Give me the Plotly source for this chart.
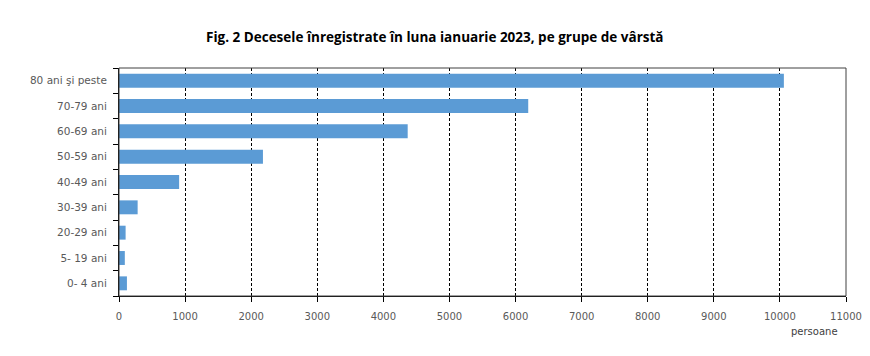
import plotly.graph_objects as go

categories = ["0- 4 ani", "5- 19 ani", "20-29 ani", "30-39 ani", "40-49 ani",
              "50-59 ani", "60-69 ani", "70-79 ani", "80 ani şi peste"]
values = [120, 88, 100, 282, 910, 2178, 4368, 6192, 10060]
x_ticks = list(range(0, 11001, 1000))

fig = go.Figure(go.Bar(
    x=values, y=categories, orientation="h",
    marker=dict(color="#5B9BD5", line=dict(width=0)),
    width=0.55,
))

# page body has an 8px margin: figure is 862x348 to fit in 870x356
fig.update_layout(
    width=862, height=348,
    margin=dict(l=111, r=24, t=60, b=60),
    plot_bgcolor="white", paper_bgcolor="white",
    showlegend=False,
    font=dict(family="DejaVu Sans", size=10, color="#595959"),
)

fig.update_xaxes(
    range=[0, 11000], tickvals=x_ticks, ticktext=[str(v) for v in x_ticks],
    showgrid=True, gridcolor="black", griddash="3px,2px", gridwidth=1,
    showline=True, linecolor="black", linewidth=1, mirror=False,
    ticks="outside", ticklen=5, tickcolor="black",
    zeroline=False, fixedrange=True, automargin=False, ticklabelstandoff=6,
    tickfont=dict(family="DejaVu Sans", size=10, color="#595959"),
)
fig.update_yaxes(
    categoryorder="array", categoryarray=categories,
    showline=True, linecolor="black", linewidth=1,
    ticks="outside", ticklen=5, tickcolor="black", tickson="boundaries",
    showgrid=False, zeroline=False, automargin=False, ticklabelstandoff=9,
    tickfont=dict(family="DejaVu Sans", size=10.5, color="#595959"),
)

fig.add_shape(type="rect", xref="paper", yref="paper", x0=0, y0=0, x1=1, y1=1,
              line=dict(color="#404040", width=1), layer="above")

fig.add_annotation(text="<b>Fig. 2 Decesele înregistrate în luna ianuarie 2023, pe grupe de vârstă</b>",
                   xref="paper", yref="paper", x=0.435, y=1 + 31 / 228,
                   xanchor="center", yanchor="middle", showarrow=False,
                   font=dict(family="Open Sans", size=13.5, color="black"))

fig.add_annotation(text="persoane", xref="paper", yref="paper", x=0.992, y=-35 / 228,
                   xanchor="right", yanchor="middle", showarrow=False,
                   font=dict(family="DejaVu Sans", size=10, color="#404040"))

fig.write_html("out.html")
